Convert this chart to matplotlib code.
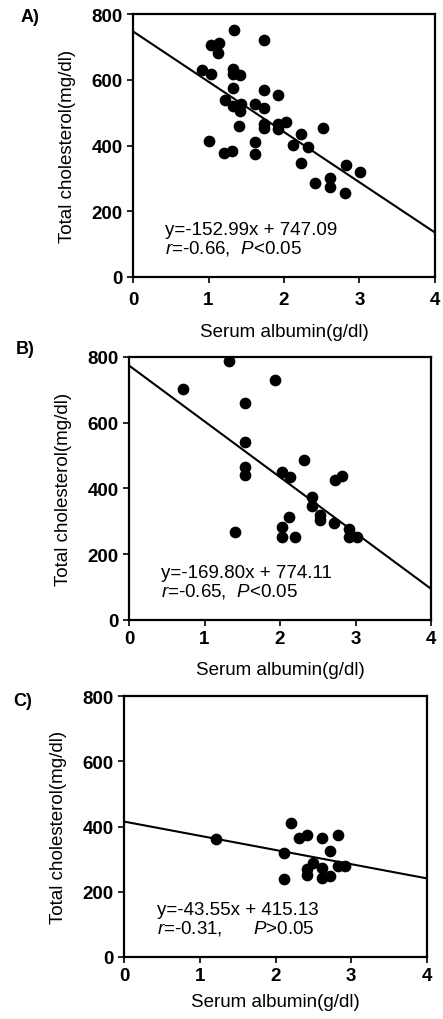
import matplotlib.pyplot as plt
import numpy as np

plt.rcParams['font.family'] = ['Liberation Sans', 'DejaVu Sans']
plt.rcParams['mathtext.fontset'] = 'custom'
plt.rcParams['mathtext.rm'] = 'Liberation Sans'
plt.rcParams['mathtext.it'] = 'Liberation Sans:italic'

# panel A
a_x = [1.34, 1.03, 1.14, 1.74, 1.13, 0.92, 1.03, 1.32, 1.33, 1.42, 1.33, 1.73, 1.92,
       1.22, 1.32, 1.43, 1.42, 1.61, 1.73, 1.41, 1.73, 1.73, 1.92, 1.92, 2.02, 2.52,
       2.22, 2.12, 2.32, 1.01, 1.21, 1.31, 1.62, 1.62, 2.22, 2.82, 3.01, 2.41, 2.61,
       2.61, 2.81]
a_y = [751, 707, 711, 721, 680, 629, 617, 632, 617, 614, 576, 570, 555,
       539, 521, 526, 506, 526, 513, 460, 465, 452, 465, 450, 473, 452,
       435, 402, 396, 414, 377, 382, 411, 373, 346, 340, 318, 286, 300,
       274, 257]

# panel B
b_x = [1.33, 0.72, 1.94, 1.53, 1.53, 1.53, 1.53, 2.32, 2.03, 2.13, 2.73, 2.82, 2.42,
       2.42, 2.53, 2.53, 2.12, 2.72, 2.03, 2.03, 2.20, 1.41, 2.92, 2.92, 3.02]
b_y = [787, 702, 730, 661, 541, 465, 441, 488, 451, 436, 427, 437, 375,
       347, 320, 303, 314, 296, 284, 253, 252, 268, 276, 252, 253]

# panel C
c_x = [1.22, 2.21, 2.31, 2.42, 2.62, 2.83, 2.72, 2.11, 2.11, 2.50, 2.42, 2.62, 2.42,
       2.62, 2.72, 2.83, 2.92]
c_y = [363, 411, 366, 375, 366, 375, 325, 320, 238, 288, 271, 273, 252,
       242, 247, 278, 278]

panels = [
    ('A)', a_x, a_y, -152.99, 747.09, 'y=-152.99x + 747.09',
     r'$\it{r}$=-0.66,  $\it{P}$<0.05'),
    ('B)', b_x, b_y, -169.80, 774.11, 'y=-169.80x + 774.11',
     r'$\it{r}$=-0.65,  $\it{P}$<0.05'),
    ('C)', c_x, c_y, -43.55, 415.13, 'y=-43.55x + 415.13',
     r'$\it{r}$=-0.31,      $\it{P}$>0.05'),
]

# axes boxes in pixels: left, right, top, bottom
boxes = [(133, 435, 15, 278), (129, 431, 358, 621), (124, 427, 697, 958)]
tick_pads = [6, 3, 3]
label_pads = [11, 10, 7]
tag_pos = [(30, 17), (25, 350), (23, 702)]
W, H = 443, 1020

fig = plt.figure(figsize=(W / 100, H / 100), dpi=100)

for i, (tag, xs, ys, slope, icpt, eq, stat) in enumerate(panels):
    l, r, t, b = boxes[i]
    ax = fig.add_axes([l / W, 1 - b / H, (r - l) / W, (b - t) / H])
    ax.scatter(xs, ys, s=55, color='black', zorder=3)
    lx = np.array([0, 4])
    ax.plot(lx, slope * lx + icpt, color='black', lw=1.5)
    ax.set_xlim(0, 4)
    ax.set_ylim(0, 800)
    ax.set_xticks([0, 1, 2, 3, 4])
    ax.set_yticks([0, 200, 400, 600, 800])
    ax.tick_params(labelsize=13.5, length=4, width=1.2)
    ax.tick_params(axis='x', pad=tick_pads[i])
    for lab in ax.get_xticklabels() + ax.get_yticklabels():
        lab.set_fontweight('bold')
    for s in ax.spines.values():
        s.set_linewidth(1.6)
    ax.set_xlabel('Serum albumin(g/dl)', fontsize=13.5, labelpad=label_pads[i])
    ax.set_ylabel('Total cholesterol(mg/dl)', fontsize=13.5, labelpad=11)
    ax.text(0.43, 145, eq, fontsize=13.5, va='center')
    ax.text(0.43, 89, stat, fontsize=13.5, va='center')
    fig.text(tag_pos[i][0] / W, 1 - tag_pos[i][1] / H, tag, fontsize=13,
             fontweight='bold', va='center', ha='center')

fig.savefig('out.png', dpi=100)
